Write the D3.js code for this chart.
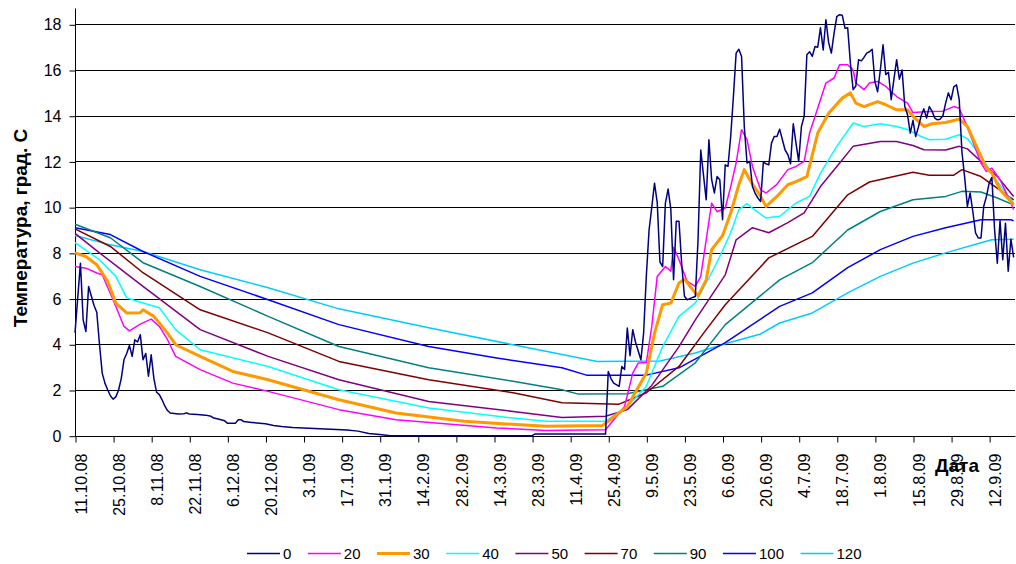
<!DOCTYPE html>
<html>
<head>
<meta charset="utf-8">
<script src="https://cdn.jsdelivr.net/npm/d3@7/dist/d3.min.js"></script>
<style>
  html, body { margin: 0; padding: 0; background: #fff; }
  svg { display: block; font-family: "Liberation Sans", Arial, sans-serif; }
</style>
</head>
<body>
<svg id="chart" width="1016" height="564"></svg>
<script>
// ---- DATA ----
// Category index = day number counted from 11.10.08 (daily observations)
const tickDays = [0,14,28,42,56,70,84,98,112,126,140,154,168,182,196,210,224,238,252,266,280,294,308,322,336];
const tickLabels = ["11.10.08","25.10.08","8.11.08","22.11.08","6.12.08","20.12.08","3.1.09","17.1.09","31.1.09","14.2.09","28.2.09","14.3.09","28.3.09","11.4.09","25.4.09","9.5.09","23.5.09","6.6.09","20.6.09","4.7.09","18.7.09","1.8.09","15.8.09","29.8.09","12.9.09"];
const yTicks = [0,2,4,6,8,10,12,14,16,18];
const depths = ["0","20","30","40","50","70","90","100","120"];
const colors = ["#000080","#FF00FF","#FF9900","#00FFFF","#800080","#800000","#008080","#0000FF","#00CCFF"];

// [day, temperature] per depth
const depth0 = [[0,4.5],[2,7.55],[3,5.07],[4,4.56],[5,6.53],[7,5.7],[8,5.4],[9,4.0],[10,2.74],[11,2.3],[12,2.01],[13,1.75],[14,1.6],[15,1.7],[16,1.99],[17,2.5],[18,3.32],[19,3.6],[20,3.95],[21,3.47],[22,4.2],[23,4.1],[24,4.42],[25,3.32],[26,3.6],[27,2.6],[28,3.54],[29,2.5],[30,1.9],[31,1.8],[32,1.57],[33,1.3],[34,1.1],[35,0.99],[38,0.95],[40,0.96],[41,1.0],[42,0.95],[45,0.93],[48,0.9],[50,0.85],[51,0.77],[53,0.72],[55,0.65],[56,0.55],[59,0.55],[60,0.7],[61,0.7],[62,0.62],[65,0.58],[70,0.52],[73,0.45],[76,0.4],[80,0.36],[84,0.34],[90,0.3],[100,0.25],[104,0.2],[108,0.1],[112,0.05],[116,0.0],[168,0.0],[169,0.07],[195,0.07],[196,2.81],[197,2.5],[198,2.3],[200,2.16],[201,3.03],[202,2.9],[203,4.71],[204,3.5],[205,4.64],[206,4.1],[208,3.32],[209,4.49],[210,7.0],[211,9.0],[212,10.0],[213,11.05],[214,10.2],[215,7.6],[216,7.4],[217,10.18],[218,10.79],[219,9.9],[220,6.82],[221,9.38],[222,9.38],[223,7.5],[224,6.1],[225,5.95],[226,6.0],[227,6.05],[228,6.09],[229,8.57],[230,12.5],[231,11.4],[232,10.32],[233,12.95],[234,11.2],[235,10.62],[236,11.34],[237,11.2],[238,9.45],[239,11.85],[240,11.78],[241,13.09],[242,14.84],[243,16.74],[244,16.91],[245,16.59],[246,13.53],[247,11.93],[248,12.0],[249,10.9],[250,10.6],[251,10.4],[252,10.25],[253,11.96],[254,11.9],[255,11.85],[256,12.8],[257,13.09],[258,13.09],[259,13.41],[260,12.95],[261,12.5],[262,12.3],[263,11.9],[264,13.65],[265,12.8],[266,12.0],[267,13.53],[268,13.97],[269,16.67],[270,16.8],[271,16.6],[272,17.03],[273,17.0],[274,17.85],[275,16.88],[276,18.2],[277,17.2],[278,16.74],[279,17.61],[280,18.34],[281,18.42],[282,18.4],[283,17.83],[284,17.85],[285,16.3],[286,15.14],[287,15.3],[288,16.45],[289,16.4],[290,16.55],[291,16.74],[292,16.8],[293,16.91],[294,15.5],[295,15.05],[296,16.0],[297,17.1],[298,15.8],[299,15.9],[300,14.7],[301,15.6],[302,16.45],[303,15.6],[304,16.0],[305,14.4],[306,14.04],[307,13.24],[308,13.8],[309,13.09],[310,13.5],[311,14.0],[312,14.3],[313,13.9],[314,14.4],[315,14.2],[316,13.9],[317,13.82],[318,13.85],[319,14.0],[320,14.55],[321,15.0],[322,14.7],[323,15.26],[324,15.35],[325,14.7],[326,12.4],[327,11.3],[328,10.03],[329,10.62],[330,9.81],[331,8.87],[332,8.65],[333,8.65],[334,10.03],[335,10.47],[336,11.05],[337,11.3],[338,9.0],[339,7.55],[340,9.4],[341,7.7],[342,9.3],[343,7.2],[344,8.6],[345,7.8]];
const depth20 = [[0,7.4],[4,7.33],[8,7.12],[10,7.04],[14,5.95],[18,4.78],[20,4.59],[24,4.88],[28,5.1],[31,4.78],[34,4.2],[37,3.47],[46,2.89],[58,2.3],[71,1.94],[97,1.14],[118,0.7],[155,0.34],[173,0.23],[195,0.26],[202,1.28],[205,2.74],[207,3.18],[210,3.2],[212,4.78],[214,6.97],[217,7.4],[219,7.2],[220,8.25],[222,7.7],[225,6.75],[228,6.53],[230,6.97],[232,8.57],[234,10.18],[236,9.8],[239,9.96],[241,10.9],[243,11.93],[245,13.39],[247,12.95],[249,11.78],[252,10.76],[254,10.62],[258,11.0],[262,11.64],[265,11.78],[268,12.0],[270,13.24],[274,14.7],[276,15.43],[279,15.65],[281,16.23],[284,16.23],[286,16.0],[287,15.43],[290,15.14],[292,15.43],[295,15.5],[298,15.28],[302,14.84],[306,14.55],[308,14.14],[314,14.18],[319,14.2],[323,14.4],[325,14.33],[328,13.5],[333,11.93],[335,11.56],[337,11.71],[340,11.2],[344,10.18],[345,9.89]];
const depth30 = [[0,8.0],[4,7.84],[8,7.48],[12,6.75],[15,5.8],[19,5.37],[24,5.38],[25,5.51],[29,5.22],[34,4.49],[37,3.98],[46,3.47],[58,2.81],[71,2.45],[97,1.57],[118,0.99],[143,0.63],[173,0.41],[194,0.45],[203,1.28],[210,2.74],[213,4.49],[216,5.73],[219,5.8],[222,6.68],[224,6.85],[227,6.39],[229,6.12],[232,6.82],[234,8.14],[238,8.75],[241,9.74],[244,10.98],[246,11.64],[248,11.2],[252,10.47],[254,10.03],[258,10.47],[262,10.98],[265,11.12],[269,11.34],[273,13.24],[277,14.11],[282,14.77],[285,15.0],[287,14.55],[290,14.4],[295,14.62],[298,14.48],[302,14.26],[306,14.26],[308,13.97],[312,13.53],[315,13.65],[320,13.7],[325,13.85],[328,13.53],[333,12.22],[335,11.7],[337,11.49],[340,10.76],[345,10.1]];
const depth40 = [[0,8.45],[9,7.7],[15,6.97],[19,6.03],[25,5.81],[31,5.6],[37,4.64],[46,3.76],[71,3.03],[97,2.01],[130,1.21],[161,0.77],[173,0.63],[195,0.63],[203,1.28],[210,2.16],[216,3.9],[222,5.22],[228,5.81],[234,7.13],[237,7.84],[241,8.88],[244,9.89],[247,10.15],[249,9.96],[254,9.52],[259,9.6],[265,10.18],[270,10.47],[274,11.49],[280,12.66],[286,13.68],[290,13.53],[296,13.65],[302,13.53],[306,13.4],[311,13.09],[314,12.95],[320,12.97],[325,13.17],[328,13.0],[333,12.22],[339,11.12],[345,10.18]];
const depth50 = [[0,8.85],[9,8.0],[25,6.53],[46,4.64],[71,3.47],[97,2.45],[130,1.5],[161,1.06],[179,0.8],[195,0.85],[203,1.14],[212,2.2],[222,3.9],[228,5.07],[239,7.04],[243,8.57],[249,9.1],[255,8.88],[262,9.32],[268,9.75],[274,10.9],[280,11.78],[286,12.66],[296,12.87],[302,12.87],[308,12.7],[312,12.51],[320,12.5],[325,12.66],[328,12.55],[333,12.0],[339,11.34],[345,10.47]];
const depth70 = [[0,9.05],[13,8.28],[25,7.13],[46,5.51],[71,4.5],[97,3.25],[130,2.45],[161,1.88],[179,1.44],[200,1.38],[210,1.88],[222,3.03],[232,4.64],[239,5.73],[255,7.78],[271,8.72],[284,10.54],[292,11.1],[308,11.53],[314,11.4],[323,11.4],[326,11.64],[333,11.34],[345,10.32]];
const depth90 = [[0,9.25],[13,8.66],[25,7.57],[46,6.53],[71,5.22],[97,3.9],[130,2.97],[161,2.38],[179,2.01],[185,1.82],[203,1.84],[216,2.16],[228,3.19],[239,4.86],[259,6.82],[271,7.57],[284,9.0],[296,9.81],[308,10.32],[320,10.47],[326,10.69],[333,10.66],[339,10.4],[345,10.1]];
const depth100 = [[0,9.1],[13,8.8],[25,8.06],[46,6.97],[71,5.95],[97,4.86],[130,3.9],[155,3.4],[179,2.97],[188,2.65],[210,2.65],[222,2.97],[239,4.07],[259,5.66],[271,6.25],[284,7.35],[296,8.14],[308,8.72],[320,9.1],[333,9.45],[344,9.45],[345,9.4]];
const depth120 = [[0,8.76],[13,8.35],[25,8.06],[46,7.26],[71,6.47],[97,5.55],[130,4.72],[161,3.98],[192,3.25],[215,3.27],[228,3.62],[239,4.02],[252,4.45],[259,4.93],[271,5.37],[284,6.25],[296,6.97],[308,7.55],[320,8.0],[333,8.44],[337,8.57],[345,8.6]];

const seriesData = [depth0, depth20, depth30, depth40, depth50, depth70, depth90, depth100, depth120];
const lineWidths = [1.5,1.5,3,1.5,1.5,1.5,1.5,1.5,1.5];

// ---- LAYOUT ----
const svg = d3.select("#chart");
const plotLeft = 75, plotRight = 1015, plotTop = 8, plotBottom = 436;
const x = d3.scaleLinear().domain([0, 345.5]).range([plotLeft, plotRight]);
const y = d3.scaleLinear().domain([0, 18]).range([435.7, 24.3]);
const font = "\"Liberation Sans\", Arial, sans-serif";

// gridlines
svg.append("g").selectAll("line").data(yTicks.filter(v => v > 0)).join("line")
  .attr("x1", plotLeft).attr("x2", plotRight)
  .attr("y1", d => Math.round(y(d)) + 0.5).attr("y2", d => Math.round(y(d)) + 0.5)
  .attr("stroke", "#000").attr("stroke-width", 1);

// y axis
const yAxis = d3.axisLeft(y).tickValues(yTicks).tickSize(6).tickPadding(8).tickFormat(d3.format("d"));
const gy = svg.append("g").attr("transform", `translate(${plotLeft + 0.5},0.5)`).call(yAxis);
gy.select(".domain").remove();
gy.append("line").attr("x1", 0).attr("x2", 0).attr("y1", plotTop).attr("y2", plotBottom).attr("stroke", "#000");
gy.selectAll(".tick line").attr("stroke", "#000");
gy.selectAll(".tick text").attr("font-size", 16).attr("font-family", font).attr("fill", "#000");

// x axis
const xAxis = d3.axisBottom(x).tickValues(tickDays).tickSize(6).tickFormat((d, i) => tickLabels[i]);
const gx = svg.append("g").attr("transform", `translate(0.5,${plotBottom + 0.5})`).call(xAxis);
gx.select(".domain").attr("d", `M${plotLeft},0H${plotRight}`).attr("stroke", "#000");
gx.selectAll(".tick line").attr("stroke", "#000");
gx.selectAll(".tick text")
  .attr("font-size", 16).attr("font-family", font).attr("fill", "#000")
  .attr("text-anchor", "end")
  .attr("transform", "translate(5,17) rotate(-90)")
  .attr("x", 0).attr("y", 0).attr("dy", "0.35em");

// series lines
const line = d3.line().x(d => x(d[0])).y(d => y(d[1]));
const order = [8,7,6,5,4,3,1,2,0];
svg.append("g").selectAll("path").data(order).join("path")
  .attr("d", i => line(seriesData[i]))
  .attr("fill", "none")
  .attr("stroke", i => colors[i])
  .attr("stroke-width", i => lineWidths[i])
  .attr("stroke-linejoin", "round");

// axis titles
svg.append("text")
  .attr("transform", "translate(27,228) rotate(-90)")
  .attr("text-anchor", "middle")
  .attr("font-family", font).attr("font-weight", "bold").attr("font-size", 19)
  .text("Температура, град. С");
svg.append("text")
  .attr("x", 935).attr("y", 472)
  .attr("font-family", font).attr("font-weight", "bold").attr("font-size", 19)
  .text("Дата");

// legend
const lg = svg.append("g");
let lx = 247;
const ly = 553.5;
depths.forEach((name, i) => {
  lg.append("line").attr("x1", lx).attr("x2", lx + 33).attr("y1", ly).attr("y2", ly)
    .attr("stroke", colors[i]).attr("stroke-width", lineWidths[i]);
  const t = lg.append("text").attr("x", lx + 36).attr("y", ly).attr("dy", "0.36em")
    .attr("font-family", font).attr("font-size", 15).text(name);
  lx += 36 + t.node().getComputedTextLength() + 16.5;
});
</script>
</body>
</html>
